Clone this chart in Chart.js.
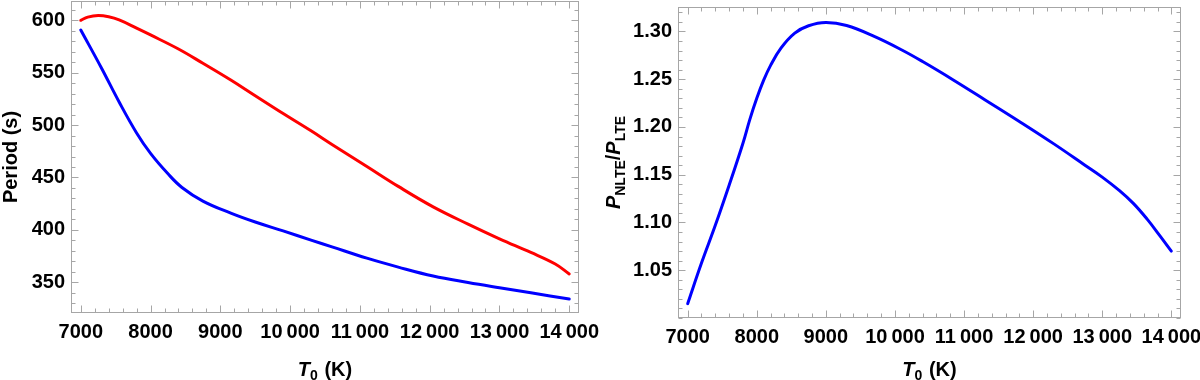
<!DOCTYPE html>
<html><head><meta charset="utf-8">
<script src="https://cdn.jsdelivr.net/npm/chart.js@4.4.0/dist/chart.umd.min.js"></script>
<style>
html,body{margin:0;padding:0;background:#fff;}
#wrap{position:relative;width:1200px;height:380px;overflow:hidden;}
.c{position:absolute;top:0;width:600px;height:380px;}
</style></head><body>
<div id="wrap">
<div class="c" style="left:0"><canvas id="left" width="600" height="380"></canvas></div>
<div class="c" style="left:600px"><canvas id="right" width="600" height="380"></canvas></div>
</div>
<script>
// ---- data ----
const redT      = [7000,7100,7250,7400,7550,7800,8000,8400,8750,9150,9500,9900,10300,10600,11100,11550,12050,12550,13000,13450,13800,14000];
const redPeriod = [600,603,604.5,603.3,600.3,592.5,586,572.6,559,543,528,511,494.5,481.5,460.5,441.5,422,405.5,391.5,378.5,367.5,358];
const blueT      = [7000,7300,7550,7800,8000,8250,8450,8750,9150,9500,9900,10300,10600,11100,11550,12050,12550,13000,13450,14000];
const bluePeriod = [590.7,554,522,492.5,473,453.5,440.5,427.5,416,407.5,399,390.3,383.8,373,364.5,356,349.8,344.8,340,334];
const ratioT     = [7000,7200,7400,7600,7800,7900,8000,8100,8200,8350,8550,8750,9000,9300,9700,10100,10400,10850,11300,11800,12300,12750,13000,13250,13450,13650,13830,14000];
const ratioValue = [1.015,1.0575,1.097,1.139,1.183,1.208,1.23,1.249,1.2645,1.2826,1.2983,1.306,1.3094,1.3062,1.2948,1.2806,1.2685,1.249,1.2286,1.2058,1.1823,1.16,1.1475,1.1333,1.12,1.1035,1.0865,1.07];

const xTickValues = [7000,8000,9000,10000,11000,12000,13000,14000];
const xTickLabels = ['7000','8000','9000','10\u2009000','11\u2009000','12\u2009000','13\u2009000','14\u2009000'];
const periodTicks = [350,400,450,500,550,600];
const periodTickLabels = ['350','400','450','500','550','600'];
const ratioTicks = [1.05,1.10,1.15,1.20,1.25,1.30];
const ratioTickLabels = ['1.05','1.10','1.15','1.20','1.25','1.30'];

const FONT = "'Liberation Sans', Arial, Helvetica, sans-serif";
const FRAME = '#a6a6a6';

function pts(xs, ys){ return xs.map((x,i)=>({x:x, y:ys[i]})); }

function framePlugin(xMinorStep, yMinorStep){
  return {
    id:'frame',
    beforeDatasetsDraw(chart){
      const ctx = chart.ctx, a = chart.chartArea, xs = chart.scales.x, ys = chart.scales.y;
      ctx.save();
      ctx.strokeStyle = FRAME; ctx.lineWidth = 1;
      ctx.strokeRect(Math.round(a.left)+0.5, Math.round(a.top)+0.5, Math.round(a.right-a.left)-1, Math.round(a.bottom-a.top)-1);
      const L = Math.round(a.left)+0.5, R = Math.round(a.right)-0.5, T = Math.round(a.top)+0.5, B = Math.round(a.bottom)-0.5;
      ctx.beginPath();
      const xmaj = xTickValues;
      for(let v = Math.ceil(xs.min/xMinorStep)*xMinorStep; v <= xs.max; v += xMinorStep){
        const isMaj = xmaj.some(m=>Math.abs(m-v)<1e-6);
        const len = isMaj ? 7 : 4;
        const px = Math.round(xs.getPixelForValue(v))+0.5;
        ctx.moveTo(px, B); ctx.lineTo(px, B-len);
        ctx.moveTo(px, T); ctx.lineTo(px, T+len);
      }
      const ymaj = chart.options.scales.y.majorList;
      const n0 = Math.ceil(ys.min/yMinorStep - 1e-9), n1 = Math.floor(ys.max/yMinorStep + 1e-9);
      for(let n = n0; n <= n1; n++){
        const v = n*yMinorStep;
        const isMaj = ymaj.some(m=>Math.abs(m-v)<yMinorStep*1e-3);
        const len = isMaj ? 7 : 4;
        const py = Math.round(ys.getPixelForValue(v))+0.5;
        ctx.moveTo(L, py); ctx.lineTo(L+len, py);
        ctx.moveTo(R, py); ctx.lineTo(R-len, py);
      }
      ctx.stroke();
      ctx.restore();
    }
  };
}

function drawRuns(ctx, runs, cx, cy, rot){
  ctx.save();
  ctx.translate(cx, cy);
  if(rot) ctx.rotate(rot);
  ctx.fillStyle = '#000';
  ctx.textBaseline = 'alphabetic';
  ctx.textAlign = 'left';
  let total = 0;
  runs.forEach(r=>{ ctx.font = r.font; r.w = ctx.measureText(r.text).width; total += r.w + (r.kern||0); });
  let x = -total/2;
  const base = runs[0].base;
  runs.forEach(r=>{ ctx.font = r.font; ctx.fillText(r.text, x, base + (r.dy||0)); x += r.w + (r.kern||0); });
  ctx.restore();
}

function titlesPlugin(kind){
  return {
    id:'titles',
    afterDraw(chart){
      const ctx = chart.ctx, a = chart.chartArea;
      const cxp = (a.left + a.right)/2, cyp = (a.top + a.bottom)/2;
      drawRuns(ctx, [
        {text:'T', font:'italic bold 20px '+FONT, base:7},
        {text:'0', font:'bold 14px '+FONT, dy:4, kern:1},
        {text:' (K)', font:'bold 20px '+FONT}
      ], cxp, 369, 0);
      if(kind === 'left'){
        drawRuns(ctx, [{text:'Period (s)', font:'bold 20px '+FONT, base:7}], 10, cyp, -Math.PI/2);
      } else {
        drawRuns(ctx, [
          {text:'P', font:'italic bold 20px '+FONT, base:7},
          {text:'NLTE', font:'bold 14px '+FONT, dy:5},
          {text:'/', font:'bold 20px '+FONT},
          {text:'P', font:'italic bold 20px '+FONT},
          {text:'LTE', font:'bold 14px '+FONT, dy:5}
        ], 13, cyp, -Math.PI/2);
      }
    }
  };
}

function tickFont(){ return {family:FONT, size:20, weight:'bold'}; }

function makeChart(id, datasets, ymin, ymax, yTicks, yLabels, yMinor, yWidth, padTop, padRight, xHeight, kind){
  return new Chart(document.getElementById(id), {
    type:'line',
    data:{datasets:datasets},
    options:{
      responsive:false, animation:false, devicePixelRatio:1,
      layout:{padding:{left:0, top:padTop, right:padRight, bottom:0}},
      plugins:{legend:{display:false}, tooltip:{enabled:false}},
      elements:{point:{radius:0}, line:{tension:0.4, borderCapStyle:'round', borderJoinStyle:'round'}},
      scales:{
        x:{
          type:'linear', min:6860, max:14140,
          grid:{display:false, drawTicks:false}, border:{display:false},
          afterBuildTicks:s=>{ s.ticks = xTickValues.map(v=>({value:v})); },
          afterFit:s=>{ s.height = xHeight; s.paddingLeft = 0; s.paddingRight = 0; },
          ticks:{autoSkip:false, maxRotation:0, minRotation:0, padding:7, color:'#000', font:tickFont(),
            callback:(v)=>{ const i = xTickValues.indexOf(v); return i>=0 ? xTickLabels[i] : ''; }}
        },
        y:{
          type:'linear', min:ymin, max:ymax, majorList:yTicks,
          grid:{display:false, drawTicks:false}, border:{display:false},
          afterBuildTicks:s=>{ s.ticks = yTicks.map(v=>({value:v})); },
          afterFit:s=>{ s.width = yWidth; s.paddingTop = 0; s.paddingBottom = 0; },
          ticks:{autoSkip:false, padding:6, color:'#000', font:tickFont(),
            callback:(v)=>{ const i = yTicks.findIndex(t=>Math.abs(t-v)<1e-9); return i>=0 ? yLabels[i] : ''; }}
        }
      }
    },
    plugins:[framePlugin(200, yMinor), titlesPlugin(kind)]
  });
}

makeChart('left', [
  {data:pts(redT, redPeriod), borderColor:'#ff0000', borderWidth:3, fill:false},
  {data:pts(blueT, bluePeriod), borderColor:'#0000ff', borderWidth:3, fill:false}
], 320.7, 618.4, periodTicks, periodTickLabels, 10, 71, 1, 21, 67, 'left');

makeChart('right', [
  {data:pts(ratioT, ratioValue), borderColor:'#0000ff', borderWidth:3, fill:false}
], 1.0, 1.3256, ratioTicks, ratioTickLabels, 0.01, 78, 7, 19, 62, 'right');
</script>
</body></html>
